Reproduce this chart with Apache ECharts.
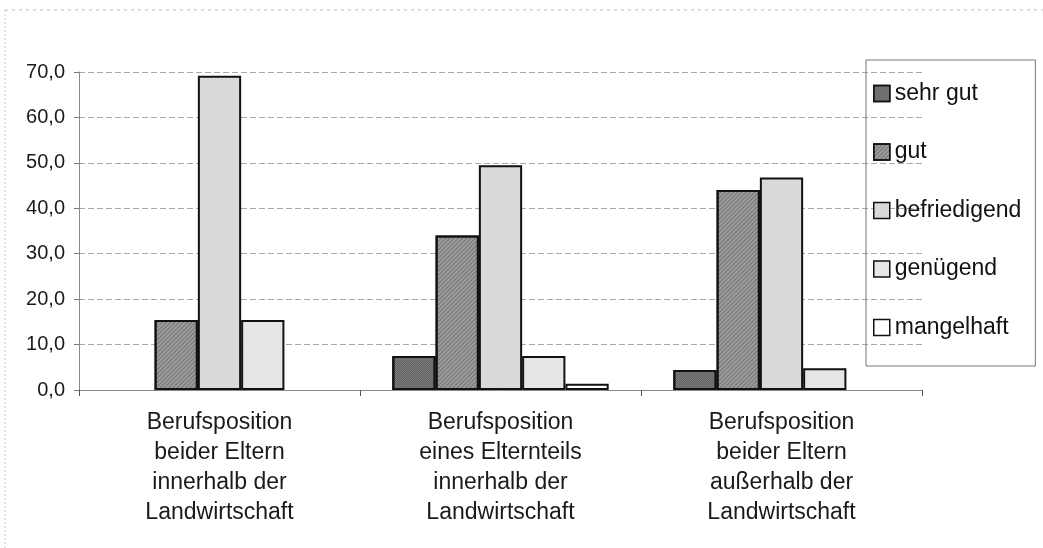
<!DOCTYPE html>
<html>
<head>
<meta charset="utf-8">
<script src="https://cdn.jsdelivr.net/npm/echarts@6/dist/echarts.min.js"></script>
<style>
html,body{margin:0;padding:0;background:#fff;}
#c{width:1043px;height:548px;}
</style>
</head>
<body>
<div id="c"></div>
<script>
var categories = [
  "Berufsposition\nbeider Eltern\ninnerhalb der\nLandwirtschaft",
  "Berufsposition\neines Elternteils\ninnerhalb der\nLandwirtschaft",
  "Berufsposition\nbeider Eltern\naußerhalb der\nLandwirtschaft"
];
var seriesNames = ["sehr gut", "gut", "befriedigend", "genügend", "mangelhaft"];
var sehrGut = [0, 7.5, 4.4];
var gut = [15.4, 34.0, 44.0];
var befriedigend = [69.2, 49.5, 46.8];
var genuegend = [15.4, 7.5, 4.8];
var mangelhaft = [0, 1.4, 0];
var yTicks = [0, 10, 20, 30, 40, 50, 60, 70];

var allValues = [sehrGut, gut, befriedigend, genuegend, mangelhaft];
var fills = ["#7e7e7e", "#9c9c9c", "#d9d9d9", "#e6e6e6", "#ffffff"];
var decals = [
  {symbol: 'rect', symbolSize: 1, dashArrayX: [[1, 1], [0, 1, 1, 0]], dashArrayY: [1, 0], color: 'rgba(40,40,40,0.35)'},
  {symbol: 'rect', symbolSize: 1, dashArrayX: [1, 0], dashArrayY: [1, 2], rotation: -Math.PI / 4, color: 'rgba(40,40,40,0.35)'},
  null, null, null
];

var chart = echarts.init(document.getElementById('c'), null, {renderer: 'canvas'});
var series = seriesNames.map(function (n, i) {
  var st = {color: fills[i], borderColor: '#111', borderWidth: 2};
  if (decals[i]) st.decal = decals[i];
  return {
    name: n,
    type: 'bar',
    barGap: '0%',
    barCategoryGap: '23%',
    data: allValues[i].map(function (v) { return v === 0 ? '-' : v; }),
    itemStyle: st,
    emphasis: {disabled: true}
  };
});

chart.setOption({
  animation: false,
  backgroundColor: '#fff',
  textStyle: {fontFamily: 'Liberation Sans, Arial, sans-serif'},
  grid: {left: 79, right: 121, top: 72, bottom: 158},
  legend: {
    orient: 'vertical',
    left: 866,
    top: 60,
    itemWidth: 16,
    itemHeight: 16,
    itemGap: 35.5,
    padding: [22, 14, 27, 7],
    borderColor: '#777',
    borderWidth: 1,
    icon: 'rect',
    itemStyle: {borderColor: '#111', borderWidth: 1.5},
    textStyle: {fontSize: 23, color: '#111', fontFamily: 'Liberation Sans, Arial, sans-serif'},
    data: seriesNames
  },
  xAxis: {
    type: 'category',
    data: categories,
    axisLine: {lineStyle: {color: '#888', width: 1}},
    axisTick: {show: true, length: 6, lineStyle: {color: '#555'}},
    axisLabel: {interval: 0, fontSize: 23, lineHeight: 30, margin: 18, color: '#1a1a1a'},
    splitLine: {show: false}
  },
  yAxis: {
    type: 'value',
    min: 0,
    max: 70,
    interval: 10,
    axisLine: {show: true, lineStyle: {color: '#888', width: 1}},
    axisTick: {show: true, length: 5, lineStyle: {color: '#777'}},
    axisLabel: {fontSize: 20, margin: 14, color: '#1a1a1a',
      formatter: function (v) { return yTicks.indexOf(v) >= 0 ? v.toFixed(1).replace('.', ',') : ''; }},
    splitLine: {show: true, lineStyle: {color: '#aaa', type: [6, 3], width: 1}}
  },
  graphic: [
    {type: 'line', shape: {x1: 5, y1: 10, x2: 1043, y2: 10}, style: {stroke: '#bbb', lineWidth: 1, lineDash: [3, 4]}, silent: true},
    {type: 'line', shape: {x1: 5, y1: 10, x2: 5, y2: 548}, style: {stroke: '#ccc', lineWidth: 1, lineDash: [2, 2]}, silent: true}
  ],
  series: series
});
</script>
</body>
</html>
